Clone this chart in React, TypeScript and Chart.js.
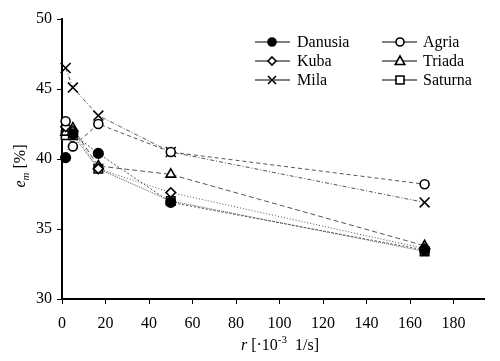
import React, { useEffect, useRef } from "react";
import { Chart, registerables } from "chart.js";

Chart.register(...registerables);

const rates = [1.67, 5, 16.7, 50, 166.7];
const seriesNames = ["Danusia", "Agria", "Kuba", "Triada", "Mila", "Saturna"];
const danusia = [40.1, 41.8, 40.4, 36.9, 33.5];
const agria = [42.7, 40.9, 42.5, 40.5, 38.2];
const kuba = [42.3, 42.0, 39.3, 37.6, 33.6];
const triada = [41.9, 42.2, 39.5, 38.9, 33.8];
const mila = [46.5, 45.1, 43.1, 40.5, 36.9];
const saturna = [41.7, 41.7, 39.3, 37.0, 33.4];
const xTicks = [0, 20, 40, 60, 80, 100, 120, 140, 160, 180];
const yTicks = [30, 35, 40, 45, 50];

const FONT = '"Liberation Serif", "Times New Roman", serif';

const styles = [
  { values: danusia, point: "circle", r: 4.8, fill: "#000", dash: [2, 2] },
  { values: agria, point: "circle", r: 4.5, fill: "#fff", dash: [4, 3] },
  { values: kuba, point: "rectRot", r: 4.8, fill: "#fff", dash: [1, 2] },
  { values: triada, point: "triangle", r: 5.5, fill: "#fff", dash: [5, 3] },
  { values: mila, point: "crossRot", r: 7, fill: "#fff", dash: [4, 2, 1, 2] },
  { values: saturna, point: "rect", r: 6, fill: "#fff", dash: [1, 1] },
];

function drawMarker(ctx: CanvasRenderingContext2D, kind: string, x: number, y: number, r: number, fill: string) {
  ctx.save();
  ctx.strokeStyle = "#000";
  ctx.lineWidth = 1.6;
  ctx.fillStyle = fill;
  ctx.setLineDash([]);
  ctx.beginPath();
  if (kind === "circle") {
    ctx.arc(x, y, r, 0, Math.PI * 2);
    ctx.fill();
    ctx.stroke();
  } else if (kind === "rectRot") {
    ctx.moveTo(x, y - r);
    ctx.lineTo(x + r, y);
    ctx.lineTo(x, y + r);
    ctx.lineTo(x - r, y);
    ctx.closePath();
    ctx.fill();
    ctx.stroke();
  } else if (kind === "triangle") {
    ctx.moveTo(x, y - r);
    ctx.lineTo(x + r * 0.95, y + r * 0.7);
    ctx.lineTo(x - r * 0.95, y + r * 0.7);
    ctx.closePath();
    ctx.fill();
    ctx.stroke();
  } else if (kind === "crossRot") {
    ctx.moveTo(x - r, y - r);
    ctx.lineTo(x + r, y + r);
    ctx.moveTo(x + r, y - r);
    ctx.lineTo(x - r, y + r);
    ctx.stroke();
  } else {
    ctx.rect(x - r, y - r, 2 * r, 2 * r);
    ctx.fill();
    ctx.stroke();
  }
  ctx.restore();
}

const overlayPlugin = {
  id: "overlay",
  afterDraw(chart: any) {
    const ctx: CanvasRenderingContext2D = chart.ctx;
    ctx.save();
    ctx.fillStyle = "#000";
    ctx.textBaseline = "alphabetic";

    // X axis title: r [·10^-3 1/s]
    const parts = [
      { t: "r", f: `italic 16px ${FONT}`, dy: 0 },
      { t: " [·10", f: `16px ${FONT}`, dy: 0 },
      { t: "-3", f: `11px ${FONT}`, dy: -7 },
      { t: "  1/s]", f: `16px ${FONT}`, dy: 0 },
    ];
    let total = 0;
    for (const p of parts) {
      ctx.font = p.f;
      total += ctx.measureText(p.t).width;
    }
    let xx = 280 - total / 2;
    const base = 350;
    for (const p of parts) {
      ctx.font = p.f;
      ctx.fillText(p.t, xx, base + p.dy);
      xx += ctx.measureText(p.t).width;
    }

    // Y axis title: e_m [%]
    ctx.save();
    ctx.translate(25, 166);
    ctx.rotate(-Math.PI / 2);
    const yparts = [
      { t: "e", f: `italic 16px ${FONT}`, dy: 0 },
      { t: "m", f: `italic 11px ${FONT}`, dy: 4 },
      { t: " [%]", f: `16px ${FONT}`, dy: 0 },
    ];
    let yt = 0;
    for (const p of yparts) {
      ctx.font = p.f;
      yt += ctx.measureText(p.t).width;
    }
    let yx = -yt / 2;
    for (const p of yparts) {
      ctx.font = p.f;
      ctx.fillText(p.t, yx, p.dy);
      yx += ctx.measureText(p.t).width;
    }
    ctx.restore();

    // Legend (two columns)
    const cols = [
      { lx: 255, mx: 272, tx: 297 },
      { lx: 382, mx: 400, tx: 423 },
    ];
    const rows = [42, 61, 80];
    ctx.font = `16px ${FONT}`;
    ctx.textBaseline = "middle";
    seriesNames.forEach((name, i) => {
      const c = cols[i % 2];
      const y = rows[Math.floor(i / 2)];
      const s = styles[i];
      ctx.strokeStyle = "#000";
      ctx.lineWidth = 1;
      ctx.setLineDash([]);
      ctx.beginPath();
      ctx.moveTo(c.lx, y);
      ctx.lineTo(c.lx + 35, y);
      ctx.stroke();
      drawMarker(ctx, s.point, c.mx, y, s.point === "crossRot" ? 4 : s.point === "triangle" ? 5 : 4, s.fill);
      ctx.fillStyle = "#000";
      ctx.fillText(name, c.tx, y + 1);
    });
    ctx.restore();
  },
};

export default function App() {
  const ref = useRef<HTMLCanvasElement | null>(null);
  useEffect(() => {
    if (!ref.current) return;
    const datasets = seriesNames.map((name, i) => {
      const s = styles[i];
      return {
        label: name,
        data: s.values.map((v, j) => ({ x: rates[j], y: v })),
        borderColor: "#555",
        borderWidth: 1,
        borderDash: s.dash,
        pointStyle: s.point,
        pointRadius: s.r,
        pointBorderWidth: 1.6,
        pointBorderColor: "#000",
        pointBackgroundColor: s.fill,
        showLine: true,
        fill: false,
        tension: 0,
        clip: false as any,
      };
    });
    const chart = new Chart(ref.current, {
      type: "scatter",
      data: { datasets },
      plugins: [overlayPlugin],
      options: {
        animation: false,
        responsive: true,
        maintainAspectRatio: false,
        layout: { padding: { left: 0, right: 16, top: 19, bottom: 0 } },
        plugins: { legend: { display: false }, tooltip: { enabled: false } },
        scales: {
          x: {
            type: "linear",
            min: 0,
            max: 194,
            afterBuildTicks: (scale: any) => {
              scale.ticks = xTicks.map((v) => ({ value: v }));
            },
            afterFit: (scale: any) => {
              scale.height = 62;
            },
            ticks: {
              font: { family: FONT, size: 16 },
              color: "#000",
              padding: 10,
              maxRotation: 0,
              autoSkip: false,
            },
            grid: { display: true, drawOnChartArea: false, drawTicks: true, tickLength: 5, color: "#000" },
            border: { display: true, color: "#000", width: 2 },
          },
          y: {
            type: "linear",
            min: 30,
            max: 50,
            afterBuildTicks: (scale: any) => {
              scale.ticks = yTicks.map((v) => ({ value: v }));
            },
            afterFit: (scale: any) => {
              scale.width = 62;
            },
            ticks: {
              font: { family: FONT, size: 16 },
              color: "#000",
              padding: 5,
            },
            grid: { display: true, drawOnChartArea: false, drawTicks: true, tickLength: 5, color: "#000" },
            border: { display: true, color: "#000", width: 2 },
          },
        },
      },
    });
    return () => chart.destroy();
  }, []);
  return (
    <div style={{ position: "absolute", left: 0, top: 0, width: 500, height: 361, background: "#fff" }}>
      <canvas ref={ref} />
    </div>
  );
}
